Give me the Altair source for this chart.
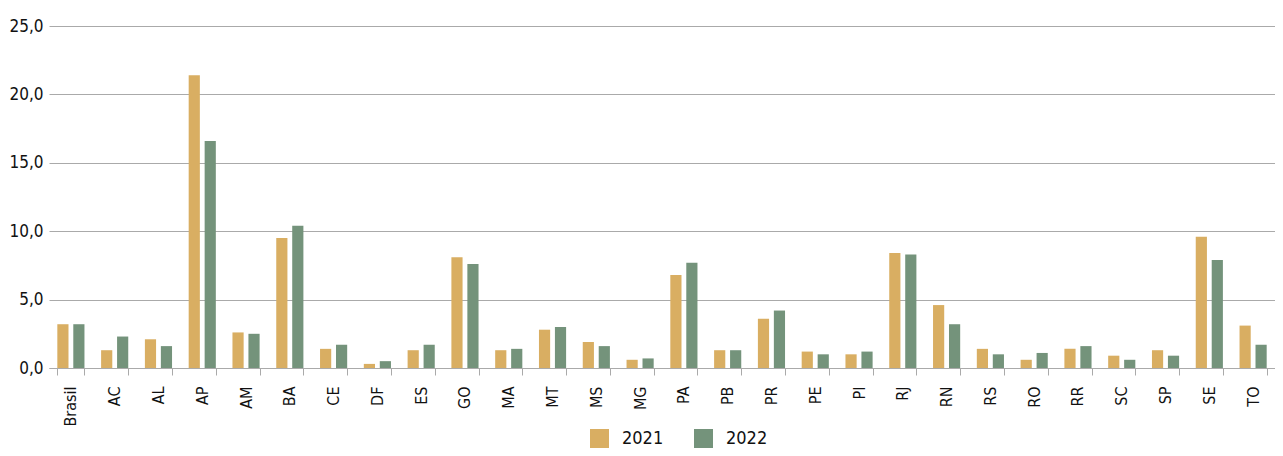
import altair as alt
import pandas as pd

ufs = ["Brasil", "AC", "AL", "AP", "AM", "BA", "CE", "DF", "ES", "GO", "MA", "MT", "MS", "MG",
       "PA", "PB", "PR", "PE", "PI", "RJ", "RN", "RS", "RO", "RR", "SC", "SP", "SE", "TO"]
v2021 = [3.2, 1.3, 2.1, 21.4, 2.6, 9.5, 1.4, 0.3, 1.3, 8.1, 1.3, 2.8, 1.9, 0.6,
         6.8, 1.3, 3.6, 1.2, 1.0, 8.4, 4.6, 1.4, 0.6, 1.4, 0.9, 1.3, 9.6, 3.1]
v2022 = [3.2, 2.3, 1.6, 16.6, 2.5, 10.4, 1.7, 0.5, 1.7, 7.6, 1.4, 3.0, 1.6, 0.7,
         7.7, 1.3, 4.2, 1.0, 1.2, 8.3, 3.2, 1.0, 1.1, 1.6, 0.6, 0.9, 7.9, 1.7]
years = ["2021", "2022"]
colors = ["#D9AE62", "#74937B"]

rows = []
for u, a, b in zip(ufs, v2021, v2022):
    rows.append({"uf": u, "ano": years[0], "valor": a})
    rows.append({"uf": u, "ano": years[1], "valor": b})
df = pd.DataFrame(rows)

FONT = "'DejaVu Sans Condensed', 'Liberation Sans Narrow', 'Roboto Condensed', Roboto, sans-serif"

chart = alt.Chart(df).mark_bar().encode(
    x=alt.X("uf:N", sort=ufs, title=None,
            scale=alt.Scale(paddingInner=0.38, paddingOuter=0.19),
            axis=alt.Axis(labelAngle=-90, labelFontSize=16, labelFont=FONT, labelColor="#111",
                          domainColor="#aaaaaa", tickColor="#aaaaaa", tickSize=7, tickBand="extent",
                          labelPadding=11, grid=False, labelBaseline="middle")),
    xOffset=alt.XOffset("ano:N", scale=alt.Scale(paddingInner=0.3, paddingOuter=0)),
    y=alt.Y("valor:Q", title=None, scale=alt.Scale(domain=[0, 25], nice=False),
            axis=alt.Axis(values=[0, 5, 10, 15, 20, 25], domain=False, ticks=False,
                          labelExpr="replace(format(datum.value, '.1f'), '.', ',')",
                          labelFontSize=17, labelFont=FONT, labelColor="#111", labelPadding=6,
                          gridColor="#aaaaaa", gridWidth=1)),
    color=alt.Color("ano:N", scale=alt.Scale(domain=years, range=colors),
                    legend=alt.Legend(title=None, orient="none", direction="horizontal",
                                      legendX=541, legendY=403, symbolType="square",
                                      symbolSize=361, symbolStrokeWidth=0, labelFontSize=18,
                                      labelFont=FONT, labelColor="#111", labelOffset=13,
                                      columnPadding=30, padding=0)),
).properties(
    width=1226, height=342,
    autosize=alt.AutoSizeParams(type="none"),
    padding={"left": 41, "top": 18, "right": 0, "bottom": 80},
).configure_view(stroke=None)

chart.save("out.html", embed_options={"renderer": "svg", "actions": False})
